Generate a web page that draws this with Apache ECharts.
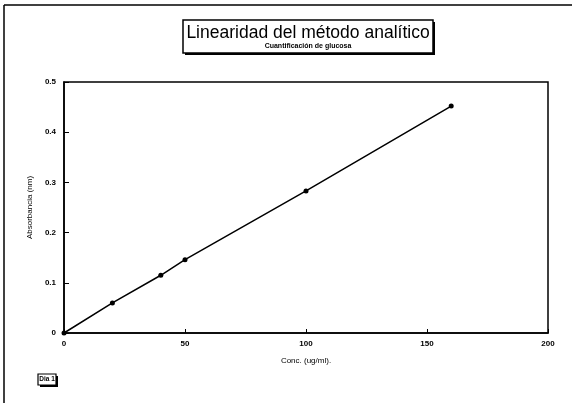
<!DOCTYPE html>
<html>
<head>
<meta charset="utf-8">
<script src="https://cdn.jsdelivr.net/npm/echarts@6/dist/echarts.min.js"></script>
<style>html,body{margin:0;padding:0;background:#fff}#c{width:575px;height:403px}</style>
</head>
<body>
<div id="c"></div>
<script>
const concentrations = [0, 20, 40, 50, 100, 160];
const absorbances = [0, 0.06, 0.115, 0.146, 0.283, 0.452];
const titleText = 'Linearidad del método analítico';
const subtitleText = 'Cuantificación de glucosa';
const xAxisName = 'Conc. (ug/ml).';
const yAxisName = 'Absorbancia (nm)';
const tagText = 'Dia 1';

const seriesData = concentrations.map((c, i) => [c, absorbances[i]]);
const font = 'Arial, "Liberation Sans", sans-serif';

const chart = echarts.init(document.getElementById('c'), null, {renderer: 'canvas'});
chart.setOption({
  backgroundColor: '#fff',
  animation: false,
  grid: {
    left: 64, right: 27, top: 82, bottom: 70,
    show: true, borderColor: '#000', borderWidth: 1.5, containLabel: false
  },
  xAxis: {
    type: 'value', min: 0, max: 200, interval: 50,
    name: xAxisName, nameLocation: 'middle', nameGap: 24,
    nameTextStyle: {fontFamily: font, fontSize: 8, color: '#000'},
    axisLine: {show: true, lineStyle: {color: '#000', width: 1.5}},
    axisTick: {show: true, inside: true, length: 4, lineStyle: {color: '#000'}},
    axisLabel: {fontFamily: font, fontSize: 8, fontWeight: 'bold', color: '#000', margin: 7},
    splitLine: {show: false}
  },
  yAxis: {
    type: 'value', min: 0, max: 0.5, interval: 0.1,
    name: yAxisName, nameLocation: 'middle', nameGap: 24, nameRotate: 90,
    nameTextStyle: {fontFamily: font, fontSize: 8, color: '#000'},
    axisLine: {show: true, lineStyle: {color: '#000', width: 1.5}},
    axisTick: {show: true, inside: true, length: 5, lineStyle: {color: '#000'}},
    axisLabel: {fontFamily: font, fontSize: 8, fontWeight: 'bold', color: '#000', margin: 8,
      formatter: v => (v === 0 ? '0' : String(Math.round(v * 10) / 10))},
    splitLine: {show: false}
  },
  series: [{
    type: 'line',
    data: seriesData,
    symbol: 'circle',
    symbolSize: 5,
    lineStyle: {color: '#000', width: 1.5},
    itemStyle: {color: '#000'}
  }],
  graphic: [
    {type: 'line', shape: {x1: 4, y1: 5, x2: 572, y2: 5}, style: {stroke: '#000', lineWidth: 1.5}},
    {type: 'line', shape: {x1: 4, y1: 5, x2: 4, y2: 403}, style: {stroke: '#000', lineWidth: 1.5}},
    // title box with shadow
    {type: 'rect', shape: {x: 185, y: 22, width: 250, height: 33}, style: {fill: '#000'}},
    {type: 'rect', shape: {x: 183, y: 20, width: 250, height: 33}, style: {fill: '#fff', stroke: '#000', lineWidth: 1.5}},
    {type: 'text', x: 308, y: 33, style: {text: titleText, fontFamily: font, fontSize: 17.5, fill: '#000', align: 'center', verticalAlign: 'middle'}},
    {type: 'text', x: 308, y: 46, style: {text: subtitleText, fontFamily: font, fontSize: 7, fontWeight: 'bold', fill: '#000', align: 'center', verticalAlign: 'middle'}},
    // tag box
    {type: 'rect', shape: {x: 40, y: 376, width: 18, height: 11}, style: {fill: '#000'}},
    {type: 'rect', shape: {x: 38, y: 374, width: 18, height: 11}, style: {fill: '#fff', stroke: '#000', lineWidth: 1.2}},
    {type: 'text', x: 47, y: 379.5, style: {text: tagText, fontFamily: font, fontSize: 6.5, fontWeight: 'bold', fill: '#000', align: 'center', verticalAlign: 'middle'}}
  ]
});
</script>
</body>
</html>
